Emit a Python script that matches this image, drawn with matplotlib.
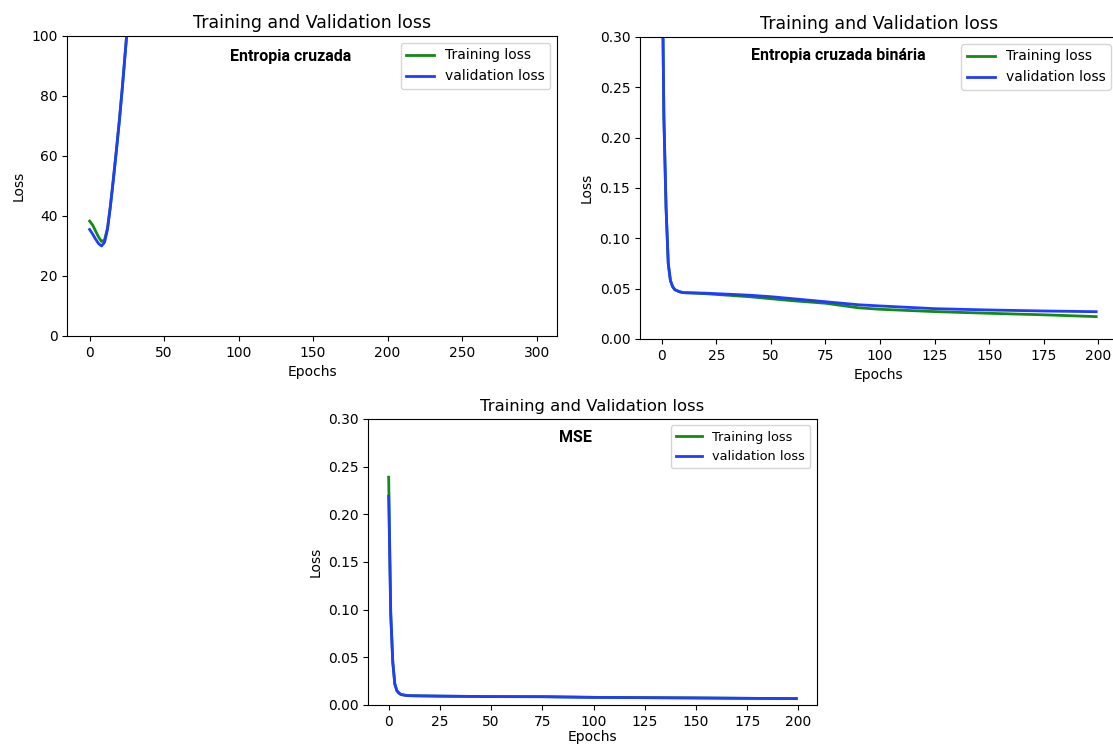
import numpy as np
import matplotlib.pyplot as plt

# Cross-entropy run: only the first epochs fall inside the 0-100 window
ce_epochs = [0, 2, 4, 6, 8, 10, 12, 14, 16, 18, 20, 22, 24, 26, 28]
ce_train = [38.3, 37.0, 35.0, 33.0, 31.5, 32.0, 36.0, 43.5, 52.5, 62.0, 72.0, 83.0, 95.0, 107.0, 120.0]
ce_val = [35.5, 34.0, 32.3, 30.8, 30.0, 31.2, 35.5, 43.5, 52.5, 62.0, 72.0, 83.0, 95.0, 107.0, 120.0]

# Binary cross-entropy run
bce_epochs = [0, 1, 2, 3, 4, 5, 6, 8, 10, 15, 20, 30, 40, 50, 60, 75, 90, 100, 125, 150, 175, 199]
bce_train = [0.42, 0.22, 0.13, 0.075, 0.058, 0.052, 0.049, 0.047, 0.046, 0.0455, 0.045,
             0.0435, 0.042, 0.040, 0.038, 0.0355, 0.031, 0.0295, 0.0272, 0.0255, 0.024, 0.0222]
bce_val = [0.42, 0.22, 0.13, 0.075, 0.058, 0.052, 0.049, 0.047, 0.046, 0.0458, 0.0455,
           0.0445, 0.0435, 0.042, 0.040, 0.037, 0.034, 0.0328, 0.0301, 0.0288, 0.0278, 0.0271]

# MSE run
mse_epochs = [0, 1, 2, 3, 4, 5, 6, 8, 10, 15, 25, 50, 75, 100, 125, 150, 175, 199]
mse_train = [0.239, 0.097, 0.045, 0.022, 0.015, 0.0125, 0.011, 0.0102, 0.0098, 0.0096,
             0.0093, 0.0088, 0.0087, 0.0080, 0.0077, 0.0074, 0.0070, 0.0067]
mse_val = [0.219, 0.095, 0.045, 0.022, 0.015, 0.0125, 0.011, 0.0102, 0.0098, 0.0096,
           0.0093, 0.0088, 0.0087, 0.0080, 0.0077, 0.0074, 0.0070, 0.0067]

GREEN = '#138a13'
BLUE = '#1f3cff'

fig = plt.figure(figsize=(11.13, 7.45), dpi=100)

ax1 = fig.add_axes([0.0605, 0.549, 0.4403, 0.4027])
ax2 = fig.add_axes([0.575, 0.545, 0.4294, 0.4054])
ax3 = fig.add_axes([0.3309, 0.0537, 0.4029, 0.3839])


def draw(ax, epochs, train, val, label, label_pos, xlim, ylim, yfmt=None,
         title_size=12.5, legend_size=10, xpad=4):
    ax.plot(epochs, train, color=GREEN, lw=2, label='Training loss')
    ax.plot(epochs, val, color=BLUE, lw=2, label='validation loss')
    ax.set_title('Training and Validation loss', fontsize=title_size)
    ax.set_xlabel('Epochs', fontsize=10, labelpad=xpad)
    ax.set_ylabel('Loss', fontsize=10)
    ax.set_xlim(*xlim)
    ax.set_ylim(*ylim)
    ax.tick_params(labelsize=10)
    if yfmt:
        ax.yaxis.set_major_formatter(plt.FormatStrFormatter(yfmt))
    ax.legend(loc='upper right', fontsize=legend_size)
    ax.text(label_pos[0], label_pos[1], label, transform=ax.transAxes,
            ha='center', va='center', fontsize=11.5, fontweight='bold',
            family='Roboto')


draw(ax1, ce_epochs, ce_train, ce_val, 'Entropia cruzada', (0.456, 0.933),
     (-14.95, 313.95), (0, 100))
ax1.set_xticks(np.arange(0, 301, 50))

draw(ax2, bce_epochs, bce_train, bce_val, 'Entropia cruzada binária', (0.414, 0.937),
     (-9.95, 208.95), (0, 0.30), '%.2f')
ax2.set_xticks(np.arange(0, 201, 25))

draw(ax3, mse_epochs, mse_train, mse_val, 'MSE', (0.463, 0.934),
     (-9.95, 208.95), (0, 0.30), '%.2f', title_size=11.8, legend_size=9.3, xpad=1)
ax3.set_xticks(np.arange(0, 201, 25))

fig.savefig('out.png', dpi=100)
